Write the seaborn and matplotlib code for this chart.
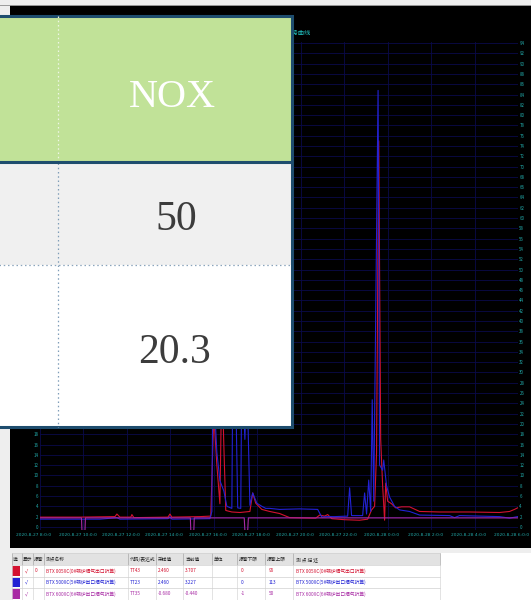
import numpy as np
import pandas as pd
import matplotlib
matplotlib.use("Agg")
import matplotlib.pyplot as plt
from matplotlib.patches import Rectangle
from matplotlib.transforms import ScaledTranslation
import seaborn as sns

# ---------------------------------------------------------------- data
# hours since 2020-8-27 08:00, concentration values
red_t = [0.0, 1.84, 3.45, 3.54, 3.68, 4.18, 4.23, 4.32, 5.89, 5.98, 6.07, 7.36, 7.86,
         8.0, 8.14, 8.28, 8.37, 8.46, 8.55, 8.83, 9.2, 9.66, 9.79, 9.93, 10.21, 10.57,
         11.03, 11.49, 12.69, 12.87, 13.1, 13.24, 13.43, 14.02, 14.71, 15.08, 15.26,
         15.4, 15.49, 15.59, 15.68, 15.77, 15.86, 15.91, 16.0, 16.18, 16.37, 16.64,
         17.01, 17.47, 18.39, 19.77, 21.15, 21.61, 21.84, 21.98]
red_v = [1.9, 1.9, 2.0, 2.5, 1.9, 1.9, 2.4, 1.8, 1.9, 2.5, 1.9, 2.0, 2.1,
         22.0, 12.0, 4.5, 30.0, 16.0, 3.2, 2.9, 2.8, 3.0, 6.6, 4.6, 3.4, 3.0,
         2.6, 1.8, 1.7, 2.3, 2.1, 2.4, 1.6, 1.4, 1.3, 1.5, 3.3,
         4.0, 14.5, 75.0, 17.0, 8.0, 1.3, 8.5, 5.0, 4.5, 3.7, 3.9,
         3.9, 3.0, 2.9, 2.9, 2.8, 3.0, 3.4, 3.7]

blue_t = [0.0, 2.76, 3.54, 3.68, 5.89, 5.98, 6.07, 7.82, 7.91, 7.95, 8.05, 8.14, 8.28,
          8.46, 8.6, 8.83, 8.87, 9.01, 9.1, 9.24, 9.29, 9.43, 9.52, 9.66, 9.79, 9.98,
          10.21, 10.39, 10.57, 11.03, 11.95, 12.78, 12.97, 13.24, 13.56, 14.16, 14.25,
          14.34, 14.85, 14.94, 15.03, 15.13, 15.22, 15.29, 15.36, 15.56, 15.63,
          15.77, 15.82, 15.95, 16.09, 16.32, 16.55, 17.01, 17.47, 18.85, 19.08, 19.31,
          21.15, 21.61, 21.98]
blue_v = [1.5, 1.5, 1.8, 1.5, 1.6, 2.0, 1.5, 1.6, 3.0, 26.0, 22.0, 14.5, 9.0,
          7.0, 4.0, 3.6, 28.0, 26.0, 3.7, 3.6, 32.0, 17.0, 30.0, 4.2, 6.6, 4.6,
          4.0, 3.6, 3.6, 3.4, 3.5, 3.4, 1.9, 2.0, 2.0, 2.1, 7.6,
          2.2, 2.2, 6.6, 2.5, 9.1, 3.0, 24.7, 5.0, 84.8, 12.0,
          11.0, 13.0, 8.0, 5.8, 4.0, 3.3, 3.0, 2.3, 2.2, 1.8, 2.2,
          2.0, 1.7, 2.0]

magenta_t = [0.0, 1.91, 1.93, 2.07, 2.09, 6.92, 6.94, 7.08, 7.1, 9.4, 9.43, 9.56, 9.59, 21.98]
magenta_v = [1.75, 1.75, -0.7, -0.7, 1.75, 1.75, -0.7, -0.7, 1.75, 1.75, -0.7, -0.7, 1.75, 1.75]

series_codes = ["TT43", "TT23", "TT35"]
series_colors = ["#d41230", "#2222d4", "#a82aa4"]

time_labels = ["2020-8-27 8:0:0", "2020-8-27 10:0:0", "2020-8-27 12:0:0",
               "2020-8-27 14:0:0", "2020-8-27 16:0:0", "2020-8-27 18:0:0",
               "2020-8-27 20:0:0", "2020-8-27 22:0:0", "2020-8-28 0:0:0",
               "2020-8-28 2:0:0", "2020-8-28 4:0:0", "2020-8-28 6:0:0"]

# summary table
table_header = "NOX"
table_limit = "50"
table_value = "20.3"

# point list below the chart
list_header = ["选", "显示", "报警", "测点名称", "代码/表达式", "采样值", "当前值",
               "单位", "报警下限", "报警上限", "测 点 描 述"]
list_names = ["BTX 005XC(0#锅炉烟气出口折算)", "BTX 500XC(5#锅炉出口烟气折算)",
              "BTX 600XC(6#锅炉出口烟气折算)"]
list_alarm = ["0", "", ""]
list_sample = ["2.460", "2.460", "-0.680"]
list_current = ["3.707", "3.227", "-0.440"]
list_low = ["0", "0", "-1"]
list_high = ["95", "113", "50"]

# ---------------------------------------------------------------- figure
CJK = ["Noto Sans CJK SC", "DejaVu Sans"]
plt.rcParams["font.family"] = CJK

W, H = 531, 600
fig = plt.figure(figsize=(W / 100, H / 100), dpi=100)
fig.patch.set_facecolor("#eeeeee")


def frac(x0, y0, x1, y1):
    return [x0 / W, 1 - y1 / H, (x1 - x0) / W, (y1 - y0) / H]


# background layer: black instrument panel + point list
bg = fig.add_axes([0, 0, 1, 1], zorder=0)
bg.set_xlim(0, W)
bg.set_ylim(H, 0)
bg.axis("off")
bg.add_patch(Rectangle((10, 5), W - 10, 543, fc="black", ec="none"))
bg.plot([0, W], [5, 5], color="#9a9a9a", lw=0.7)
bg.text(311, 33, "NOX实时趋势曲线", ha="right", va="center", color="#22c4c4",
        fontsize=4.5, family=CJK)

# point list
bg.add_patch(Rectangle((12, 553), 428, 12, fc="#e2e2e2", ec="none"))
bg.add_patch(Rectangle((12, 565), W - 12, 40, fc="white", ec="none"))
bg.add_patch(Rectangle((440, 553), W - 440, 12, fc="white", ec="none"))
col_x = [12, 22, 33, 44, 128, 156, 183, 212, 237, 265, 293, 440]
for cx in col_x:
    bg.plot([cx, cx], [553, 565], color="#a8a8a8", lw=0.5)
    bg.plot([cx, cx], [565, 600], color="#d8d8d8", lw=0.5)
for ry in [553, 565, 576.5, 588, 599.5]:
    bg.plot([12, 440], [ry, ry], color="#d0d0d0", lw=0.5)
hdr_x = [13, 23, 34, 46, 130, 158, 185, 214, 239, 267, 296]
for hx, lab in zip(hdr_x, list_header):
    bg.text(hx, 559.5, lab, ha="left", va="center", fontsize=3.4, color="#222222", family=CJK)

row_tops = [565, 576.5, 588]
for i, top in enumerate(row_tops):
    c = series_colors[i]
    yc = top + 5.8
    bg.add_patch(Rectangle((12, top + 1), 8, 9.5, fc=c, ec="none"))
    vals = ["√", list_alarm[i], list_names[i], series_codes[i], list_sample[i],
            list_current[i], "", list_low[i], list_high[i], list_names[i]]
    xs = [25, 35, 46, 130, 158, 185, 214, 241, 269, 296]
    for vx, v in zip(xs, vals):
        bg.text(vx, yc, v, ha="left", va="center", fontsize=3.4, color=c,
                family=["DejaVu Sans"] if v == "√" else CJK)
bg.add_patch(Rectangle((12, 600.5), 8, 9, fc="#f08a1c", ec="none"))

# ---------------------------------------------------------------- trend chart
ax = fig.add_axes(frac(40, 42, 518, 530), zorder=1)
ax.set_facecolor("black")

df = pd.concat([
    pd.DataFrame({"t": red_t, "v": red_v, "series": series_codes[0]}),
    pd.DataFrame({"t": blue_t, "v": blue_v, "series": series_codes[1]}),
    pd.DataFrame({"t": magenta_t, "v": magenta_v, "series": series_codes[2]}),
], ignore_index=True)

sns.lineplot(data=df, x="t", y="v", hue="series", hue_order=series_codes,
             palette=dict(zip(series_codes, series_colors)), estimator=None,
             sort=False, linewidth=0.8, legend=False, ax=ax)

ax.set_xlim(0, 22)
ax.set_ylim(-0.6, 94.2)
ax.set_xticks(np.arange(0, 23, 2))
ax.set_xticklabels(time_labels)
ax.set_yticks(np.arange(0, 95, 2))
ax.set_xlabel("")
ax.set_ylabel("")
ax.grid(True, color="#0a0a4a", lw=0.6)
ax.set_axisbelow(True)
for s in ax.spines.values():
    s.set_visible(False)
ax.tick_params(axis="both", length=0, labelsize=3.2, colors="#22a8a8")
ax.tick_params(axis="y", labelleft=True, labelright=True, pad=1)
ax.tick_params(axis="x", pad=2)
shift = ScaledTranslation(-6 / 100, 0, fig.dpi_scale_trans)
for lab in ax.get_xticklabels():
    lab.set_transform(lab.get_transform() + shift)
    lab.set_family(["DejaVu Sans"])

# ---------------------------------------------------------------- summary table overlay
ov = fig.add_axes([0, 0, 1, 1], zorder=5)
ov.set_xlim(0, W)
ov.set_ylim(H, 0)
ov.axis("off")
L, R, T, B = -5, 291.5, 15.5, 426.5
border = "#1e4d6e"
ov.add_patch(Rectangle((L, T), R - L, B - T, fc="white", ec="none"))
ov.add_patch(Rectangle((L, T), R - L, 161.5 - T, fc="#c1e298", ec="none"))
ov.add_patch(Rectangle((L, 161.5), R - L, 265 - 161.5, fc="#f0f0f0", ec="none"))
ov.plot([57.5, 57.5], [T, 160], color="#eef6e6", lw=0.9, ls=(0, (1.2, 2.2)))
ov.plot([57.5, 57.5], [163, B], color="#7f9db8", lw=0.9, ls=(0, (1.2, 2.2)))
ov.plot([L, R], [265, 265], color="#8aa4bc", lw=0.9, ls=(0, (1.2, 2.2)))
ov.plot([L, R], [161.5, 161.5], color=border, lw=2.2)
ov.add_patch(Rectangle((L, T), R - L, B - T, fc="none", ec=border, lw=2.2))

serif = ["Liberation Serif", "DejaVu Serif"]
ov.text(172, 107, table_header, ha="center", va="baseline", color="white",
        fontsize=29, family=serif)
ov.text(176, 230, table_limit, ha="center", va="baseline", color="#3c3c3c",
        fontsize=30, family=serif)
ov.text(175, 363, table_value, ha="center", va="baseline", color="#3c3c3c",
        fontsize=30, family=serif)

fig.savefig("out.png", dpi=100, facecolor=fig.get_facecolor())
